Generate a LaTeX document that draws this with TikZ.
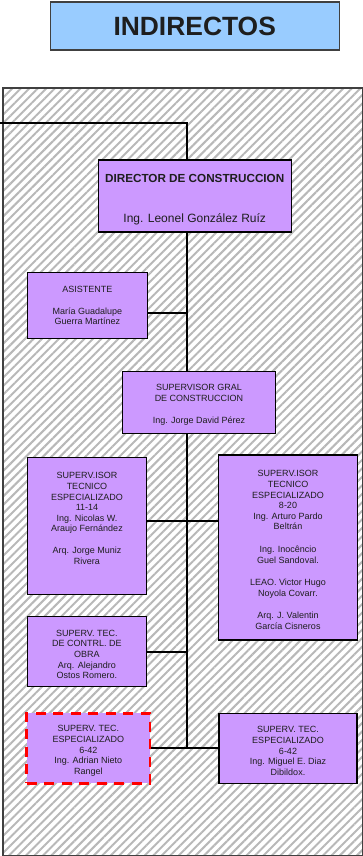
\documentclass[tikz,border=0pt]{standalone}
\usepackage{fontspec}
\setmainfont{Liberation Sans}
\usepackage{tikz}
\usetikzlibrary{calc, patterns.meta}
\definecolor{lila}{HTML}{CC99FF}
\definecolor{celeste}{HTML}{99CCFF}
\definecolor{texto}{HTML}{1E1E1E}
\newcommand{\arriba}[1][11.5pt]{\rule{0pt}{#1}}
\tikzstyle{puesto}  = [draw=black, line width=1.1pt, fill=lila, text=texto, align=center, inner sep=0pt,
                       font=\fontsize{9}{10.6}\selectfont]
\tikzstyle{vacante} = [puesto, draw=red, line width=2.4pt, dash pattern=on 10pt off 7.5pt]
\tikzstyle{linea}   = [line width=2pt]

\begin{document}
\begin{tikzpicture}[x=1pt, y=-1pt]
  \useasboundingbox (0,0) rectangle (363,856);

  %title and hatched area
  \node[draw=black!75, line width=1.4pt, fill=celeste, minimum width=289pt, minimum height=48pt, text=texto,
        font=\bfseries\fontsize{26.4}{30}\selectfont] (titulo) at (194.7,26) {INDIRECTOS};
  \draw[draw=black!75, line width=2pt, pattern={Lines[angle=45,distance=6pt,line width=2pt]},
        pattern color=black!28] (3,88.3) rectangle (362.5,855.5);

  %boxes on the trunk
  \node[puesto, minimum width=192.7pt, minimum height=72pt, font=\fontsize{12}{14}\selectfont] (dir) at (194.7,196)
    {\arriba[14.6pt]\textbf{\fontsize{11.7}{14}\selectfont DIRECTOR DE CONSTRUCCION}\\[26pt]Ing. Leonel González Ruíz};
  \node[puesto, minimum width=120pt, minimum height=66pt] (asis) at (87.3,305.4)
    {ASISTENTE\\[11pt]María Guadalupe\\Guerra Martínez};
  \node[puesto, minimum width=153pt, minimum height=62pt] (gral) at (199,402.5)
    {\arriba SUPERVISOR GRAL\\DE CONSTRUCCION\\[12pt]Ing. Jorge David Pérez};

  %put some boxes on the left
  \node[puesto, minimum width=119.4pt, minimum height=136.7pt] (supL) at (87,525.7)
    {\arriba SUPERV.ISOR\\TECNICO\\ESPECIALIZADO\\11-14\\Ing. Nicolas W.\\Araujo Fernández\\[11pt]Arq. Jorge Muniz\\Rivera\\[9.5pt]~};
  \node[puesto, minimum width=119.7pt, minimum height=70pt] (ctrl) at (86.9,651.7)
    {\arriba SUPERV. TEC.\\DE CONTRL. DE\\OBRA\\Arq. Alejandro\\Ostos Romero.};
  \node[vacante, minimum width=123.3pt, minimum height=70pt] (adr) at (88.3,748.3)
    {\arriba SUPERV. TEC.\\ESPECIALIZADO\\6-42\\Ing. Adrian Nieto\\Rangel};

  %put some boxes on the right
  \node[puesto, minimum width=139.4pt, minimum height=185pt] (supR) at (288,547.5)
    {\arriba SUPERV.ISOR\\TECNICO\\ESPECIALIZADO\\8-20\\Ing. Arturo Pardo\\Beltrán\\[12pt]Ing. Inocêncio\\Guel Sandoval.\\[12pt]LEAO. Victor Hugo\\Noyola Covarr.\\[12pt]Arq. J. Valentin\\García Cisneros};
  \node[puesto, minimum width=138pt, minimum height=70pt] (mig) at (288,748.3)
    {\arriba SUPERV. TEC.\\ESPECIALIZADO\\6-42\\Ing. Miguel E. Diaz\\Dibildox.};

  %connectors
  \coordinate (entrada) at (0,123);
  \coordinate (eje) at (186.5,123);
  \draw[linea] (entrada) -- (eje) -- (eje |- dir.north);
  \draw[linea] (eje |- dir.south) -- (eje |- gral.north);
  \draw[linea] ([yshift=-8pt]asis.east) -- ([yshift=-8pt]asis.east -| eje);
  \draw[linea] (eje |- gral.south) -- (eje |- adr.east);
  \draw[linea] ([yshift=4.5pt]supL.east) -- ([yshift=4.5pt]supL.east -| supR.west);
  \draw[linea] (ctrl.east) -- (ctrl.east -| eje);
  \draw[linea] (adr.east) -- (mig.west);
\end{tikzpicture}
\end{document}
